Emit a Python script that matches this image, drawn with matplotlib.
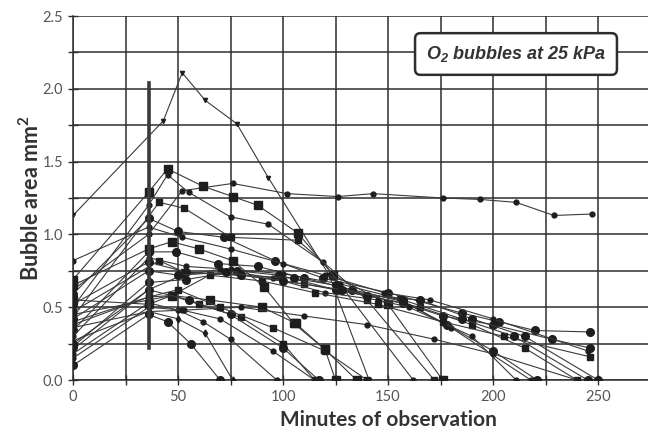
import matplotlib
matplotlib.use("Agg")
import matplotlib.pyplot as plt

# one list of times and one of areas per bubble, marker style per bubble
t01 = [0, 43, 52, 63, 78, 93, 122, 141]
a01 = [1.13, 1.78, 2.11, 1.92, 1.76, 1.39, 0.72, 0.0]
t02 = [0, 36, 52, 76, 102, 126, 143, 176, 194, 211, 229, 247]
a02 = [0.62, 1.00, 1.30, 1.35, 1.28, 1.26, 1.28, 1.25, 1.24, 1.22, 1.13, 1.14]
t03 = [0, 36, 45, 62, 76, 88, 107, 124, 150, 176]
a03 = [0.69, 1.29, 1.45, 1.33, 1.26, 1.20, 1.01, 0.72, 0.52, 0.0]
t04 = [0, 36, 45, 55, 75, 93, 119, 162]
a04 = [0.50, 1.20, 1.41, 1.29, 1.12, 1.07, 0.81, 0.0]
t05 = [0, 36, 50, 72, 96, 119, 150, 185, 203, 220, 246]
a05 = [0.59, 1.11, 1.02, 0.98, 0.82, 0.70, 0.60, 0.46, 0.40, 0.34, 0.33]
t06 = [0, 41, 53, 75, 107, 140, 172]
a06 = [0.43, 1.22, 1.18, 0.98, 0.96, 0.55, 0.0]
t07 = [0, 36, 49, 69, 88, 110, 133, 157, 178, 200, 221]
a07 = [0.34, 0.88, 0.88, 0.80, 0.78, 0.70, 0.62, 0.54, 0.38, 0.20, 0.0]
t08 = [0, 36, 54, 75, 100, 127, 155, 180, 218]
a08 = [0.30, 0.84, 0.78, 0.76, 0.73, 0.66, 0.56, 0.36, 0.0]
t09 = [0, 41, 53, 80, 110, 140, 165, 190, 215, 240]
a09 = [0.47, 0.82, 0.74, 0.72, 0.66, 0.58, 0.50, 0.38, 0.22, 0.0]
t10 = [0, 36, 54, 78, 98, 125, 157, 176, 200, 228, 246]
a10 = [0.23, 0.67, 0.69, 0.75, 0.72, 0.62, 0.53, 0.44, 0.38, 0.28, 0.22]
t11 = [0, 36, 52, 70, 95, 120, 145, 160, 190, 211]
a11 = [0.21, 0.62, 0.72, 0.76, 0.70, 0.60, 0.55, 0.50, 0.30, 0.0]
t12 = [0, 36, 47, 65, 90, 115, 145, 176, 205, 246]
a12 = [0.38, 0.57, 0.58, 0.72, 0.68, 0.60, 0.52, 0.40, 0.30, 0.16]
t13 = [0, 36, 52, 75, 100, 120, 148, 170, 200, 245]
a13 = [0.82, 1.05, 0.98, 0.90, 0.80, 0.72, 0.60, 0.55, 0.42, 0.20]
t14 = [0, 36, 47, 60, 76, 91, 105, 120, 135]
a14 = [0.65, 0.90, 0.95, 0.90, 0.82, 0.64, 0.39, 0.21, 0.0]
t15 = [0, 36, 47, 65, 90, 106, 120, 125]
a15 = [0.55, 0.52, 0.58, 0.55, 0.50, 0.39, 0.21, 0.0]
t16 = [0, 36, 50, 62, 75, 97]
a16 = [0.18, 0.53, 0.48, 0.40, 0.28, 0.0]
t17 = [0, 36, 45, 56, 70]
a17 = [0.10, 0.45, 0.40, 0.25, 0.0]
t18 = [0, 36, 50, 63, 76]
a18 = [0.27, 0.47, 0.42, 0.32, 0.0]
t19 = [0, 47, 60, 80, 100, 115]
a19 = [0.45, 0.58, 0.52, 0.43, 0.25, 0.0]
t20 = [0, 36, 55, 75, 100, 117]
a20 = [0.25, 0.62, 0.55, 0.45, 0.22, 0.0]
t21 = [0, 36, 53, 80, 110, 140, 172, 200, 240]
a21 = [0.36, 0.47, 0.48, 0.50, 0.44, 0.38, 0.28, 0.18, 0.0]
t22 = [0, 36, 54, 80, 105, 125, 140, 165, 190, 215, 250]
a22 = [0.52, 0.81, 0.74, 0.72, 0.70, 0.65, 0.58, 0.55, 0.42, 0.30, 0.0]
t23 = [0, 36, 50, 70, 95, 120, 140]
a23 = [0.40, 0.57, 0.62, 0.50, 0.36, 0.20, 0.0]
t24 = [0, 36, 52, 70, 95, 115]
a24 = [0.15, 0.50, 0.48, 0.42, 0.20, 0.0]
t25 = [0, 36, 50, 73, 100, 128, 157, 185, 210, 245]
a25 = [0.42, 0.75, 0.72, 0.74, 0.68, 0.62, 0.55, 0.42, 0.30, 0.0]

bubbles = [
    (t01, a01, 'v', 3), (t02, a02, 'o', 3.5), (t03, a03, 's', 6),
    (t04, a04, 'o', 3.5), (t05, a05, 'o', 5.5), (t06, a06, 's', 4),
    (t07, a07, 'o', 5.5), (t08, a08, 'o', 3.5), (t09, a09, 's', 4),
    (t10, a10, 'o', 5.5), (t11, a11, 'o', 3.5), (t12, a12, 's', 4),
    (t13, a13, 'o', 3.5), (t14, a14, 's', 6), (t15, a15, 's', 5.5),
    (t16, a16, 'o', 3.5), (t17, a17, 'o', 5.5), (t18, a18, 'd', 3.5),
    (t19, a19, 's', 4), (t20, a20, 'o', 5.5), (t21, a21, 'o', 3.5),
    (t22, a22, 'o', 5.5), (t23, a23, 's', 4), (t24, a24, 'o', 3.5),
    (t25, a25, 'o', 5.5),
]

# time of the vertical marker line
mark_t = 36
mark_lo, mark_hi = 0.22, 2.04

plt.rcParams['font.family'] = ['Lato', 'DejaVu Sans']
plt.rcParams['mathtext.fontset'] = 'custom'
plt.rcParams['mathtext.bf'] = 'Liberation Sans:italic:bold'
plt.rcParams['mathtext.sf'] = 'Lato:bold'

fig = plt.figure(figsize=(6.48, 4.32), dpi=100)
# the original plot runs past the right edge of the picture (to 300 min)
ax = fig.add_axes([73 / 648, 1 - 380 / 432, 630 / 648, 364 / 432])

for t, a, m, s in bubbles:
    ax.plot(t, a, color='#3a3a3a', lw=0.8, marker=m, ms=s,
            mfc='#1e1e1e', mec='#1e1e1e', zorder=3)

ax.plot([mark_t, mark_t], [mark_lo, mark_hi], color='#3a3a3a', lw=2.6, zorder=4)

ax.set_xlim(0, 300)
ax.set_ylim(0, 2.5)
ax.set_xticks([i * 25 for i in range(13)])
ax.set_xticklabels([str(i * 25) if i % 2 == 0 and i <= 10 else '' for i in range(13)])
ax.set_yticks([i * 0.25 for i in range(11)])
ax.set_yticklabels(['%.1f' % (i * 0.25) if i % 2 == 0 else '' for i in range(11)])
ax.grid(True, color='#2e2e2e', lw=1.1)
ax.set_axisbelow(True)
for side in ['top', 'right']:
    ax.spines[side].set_visible(False)
for side in ['left', 'bottom']:
    ax.spines[side].set_color('#2e2e2e')
    ax.spines[side].set_linewidth(1.1)
ax.tick_params(direction='inout', length=7, width=1.0, color='#2e2e2e',
               labelsize=10.5, labelcolor='#555555')
ax.tick_params(axis='x', pad=4)

ax.set_xlabel('Minutes of observation', fontsize=15, fontweight='bold',
              color='#333333', labelpad=4)
ax.set_ylabel(r'Bubble area mm$^\mathsf{2}$', fontsize=15.5, fontweight='bold',
              color='#333333', labelpad=0)

fig.text(516 / 648, 1 - 54 / 432, r'O$_\mathbf{2}$ bubbles at 25 kPa', ha='center',
         va='center', family='Liberation Sans', fontsize=13, fontweight='bold',
         style='italic', color='#333333',
         bbox=dict(boxstyle='round,pad=0.6,rounding_size=0.3', fc='white',
                   ec='#2e2e2e', lw=1.8))

fig.savefig('out.png', dpi=100)
